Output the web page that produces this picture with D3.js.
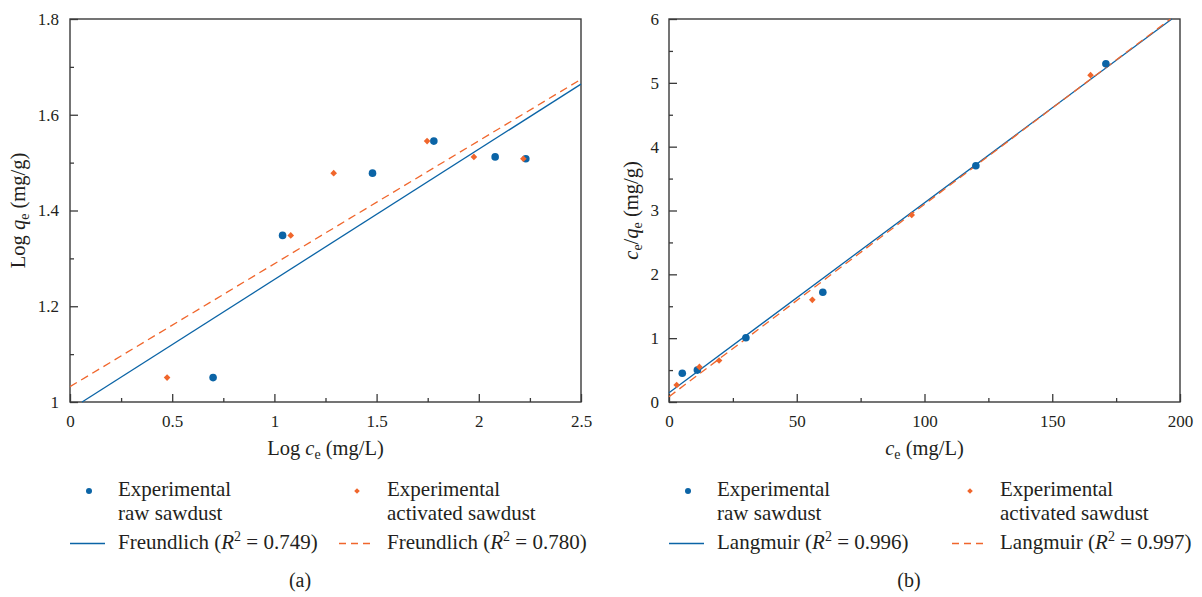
<!DOCTYPE html>
<html>
<head>
<meta charset="utf-8">
<script src="https://cdn.jsdelivr.net/npm/d3@7"></script>
<style>
  body { margin: 0; background: #fff; }
</style>
</head>
<body>
<svg width="1202" height="597"></svg>
<script>
// panel (a) - Freundlich, log values
const rawLogCe = [0.70, 1.04, 1.48, 1.78, 2.08, 2.23];
const rawLogQe = [1.051, 1.348, 1.478, 1.545, 1.512, 1.508];
const actLogCe = [0.475, 1.08, 1.29, 1.747, 1.976, 2.218];
const actLogQe = [1.051, 1.348, 1.478, 1.545, 1.512, 1.508];
const freundRawX = [0.059, 2.5], freundRawY = [1, 1.664];
const freundActX = [0, 2.5], freundActY = [1.032, 1.674];
const ticksAx = [0, 0.5, 1, 1.5, 2, 2.5];
const ticksAy = [1, 1.2, 1.4, 1.6, 1.8];

// panel (b) - Langmuir
const rawCe = [5.2, 11.1, 30.1, 60.2, 120.1, 171];
const rawCeQe = [0.45, 0.50, 1.007, 1.72, 3.70, 5.30];
const actCe = [3.0, 11.9, 19.6, 56.1, 95, 165];
const actCeQe = [0.266, 0.55, 0.65, 1.60, 2.93, 5.12];
const langRawX = [0, 196.8], langRawY = [0.146, 6];
const langActX = [0, 196.3], langActY = [0.083, 6];
const ticksBx = [0, 50, 100, 150, 200];
const ticksBy = [0, 1, 2, 3, 4, 5, 6];

const blue = '#0b64a6';
const orange = '#f0662c';
const frameCol = '#3a3a3a';
const ink = '#231f20';
const serif = 'Liberation Serif, Times New Roman, DejaVu Serif, serif';

const svg = d3.select('svg').attr('font-family', serif);
const diamond = d3.symbolDiamond2 || d3.symbolDiamond;

const drawPanel = (p) => {
    const g = svg.append('g');
    const x = d3.scaleLinear().domain(p.xDom).range([p.left, p.left + 511]);
    const y = d3.scaleLinear().domain(p.yDom).range([402, 19]);

    // minor ticks
    g.append('g').attr('transform', 'translate(0,402)')
        .call(d3.axisBottom(x).tickValues(p.xMinor).tickSize(-4).tickFormat(''))
        .call(a => a.select('.domain').remove());
    g.append('g').attr('transform', `translate(${p.left},0)`)
        .call(d3.axisLeft(y).tickValues(p.yMinor).tickSize(-4).tickFormat(''))
        .call(a => a.select('.domain').remove());

    const xa = g.append('g').attr('transform', 'translate(0,402)')
        .call(d3.axisBottom(x).tickValues(p.xTicks).tickSize(-8).tickPadding(13).tickFormat(d3.format('')));
    const ya = g.append('g').attr('transform', `translate(${p.left},0)`)
        .call(d3.axisLeft(y).tickValues(p.yTicks).tickSize(-8).tickPadding(p.yPad).tickFormat(d3.format('')));
    [xa, ya].forEach(a => {
        a.attr('font-family', serif).attr('font-size', 17);
        a.select('.domain').remove();
        a.selectAll('text').attr('fill', ink);
    });
    g.selectAll('.tick line').attr('stroke', frameCol).attr('stroke-width', 1.3);

    g.append('rect')
        .attr('x', p.left).attr('y', 19)
        .attr('width', 511).attr('height', 383)
        .attr('fill', 'none').attr('stroke', frameCol).attr('stroke-width', 1.4);

    const line = d3.line().x(d => x(d[0])).y(d => y(d[1]));
    g.append('path').datum(p.fitRawX.map((v, i) => [v, p.fitRawY[i]]))
        .attr('d', line).attr('fill', 'none').attr('stroke', blue).attr('stroke-width', 1.3);
    g.append('path').datum(p.fitActX.map((v, i) => [v, p.fitActY[i]]))
        .attr('d', line).attr('fill', 'none').attr('stroke', orange).attr('stroke-width', 1.3)
        .attr('stroke-dasharray', '8,5');

    g.selectAll('.raw').data(p.rawX).enter().append('circle')
        .attr('cx', d => x(d)).attr('cy', (d, i) => y(p.rawY[i]))
        .attr('r', 3.8).attr('fill', blue);
    g.selectAll('.act').data(p.actX).enter().append('path')
        .attr('d', d3.symbol().type(diamond).size(28))
        .attr('transform', (d, i) => `translate(${x(d)},${y(p.actY[i])})`)
        .attr('fill', orange);

    // x title
    const xt = g.append('text').attr('x', p.left + 255.5).attr('y', 455)
        .attr('text-anchor', 'middle').attr('font-size', 20.5).attr('fill', ink);
    if (p.xLog) xt.append('tspan').text('Log ');
    xt.append('tspan').attr('font-style', 'italic').text('c');
    xt.append('tspan').attr('font-size', 14).attr('dy', 4).text('e');
    xt.append('tspan').attr('dy', -4).text(' (mg/L)');

    // y title
    const yt = g.append('text')
        .attr('transform', `translate(${p.yTitleX},210.5) rotate(-90)`)
        .attr('text-anchor', 'middle').attr('font-size', 20.5).attr('fill', ink);
    if (p.xLog) {
        yt.append('tspan').text('Log ');
        yt.append('tspan').attr('font-style', 'italic').text('q');
        yt.append('tspan').attr('font-size', 14).attr('dy', 4).text('e');
        yt.append('tspan').attr('dy', -4).text(' (mg/g)');
    } else {
        yt.append('tspan').attr('font-style', 'italic').text('c');
        yt.append('tspan').attr('font-size', 14).attr('dy', 4).text('e');
        yt.append('tspan').attr('dy', -4).text('/');
        yt.append('tspan').attr('font-style', 'italic').text('q');
        yt.append('tspan').attr('font-size', 14).attr('dy', 4).text('e');
        yt.append('tspan').attr('dy', -4).text(' (mg/g)');
    }

    // legend
    const lg = g.append('g').attr('fill', ink);
    const c1 = p.legX, c2 = p.legX2;
    lg.append('circle').attr('cx', c1 + 19).attr('cy', 491).attr('r', 3).attr('fill', blue);
    lg.append('path').attr('d', d3.symbol().type(diamond).size(20))
        .attr('transform', `translate(${c2 + 18},491)`).attr('fill', orange);
    const addText = (tx, ty, s) => lg.append('text').attr('x', tx).attr('y', ty)
        .attr('font-size', 21).text(s);
    addText(c1 + 48, 496, 'Experimental');
    addText(c1 + 48, 520, 'raw sawdust');
    addText(c2 + 48, 496, 'Experimental');
    addText(c2 + 48, 520, 'activated sawdust');
    lg.append('line').attr('x1', c1).attr('x2', c1 + 35).attr('y1', 543.5).attr('y2', 543.5)
        .attr('stroke', blue).attr('stroke-width', 1.3);
    lg.append('line').attr('x1', c2).attr('x2', c2 + 35).attr('y1', 543.5).attr('y2', 543.5)
        .attr('stroke', orange).attr('stroke-width', 1.3).attr('stroke-dasharray', '7,5');
    const fitText = (tx, r2) => {
        const t = lg.append('text').attr('x', tx).attr('y', 549).attr('font-size', 21);
        t.append('tspan').text(p.fitName + ' (');
        t.append('tspan').attr('font-style', 'italic').text('R');
        t.append('tspan').attr('font-size', 14).attr('dy', -8).text('2');
        t.append('tspan').attr('dy', 8).text(' = ' + r2 + ')');
    };
    fitText(c1 + 48, p.r2[0]);
    fitText(c2 + 48, p.r2[1]);

    g.append('text').attr('x', p.capX).attr('y', 587).attr('text-anchor', 'middle')
        .attr('font-size', 20).attr('fill', ink).text(p.cap);
};

drawPanel({
    left: 70, xDom: [0, 2.5], yDom: [1, 1.8],
    xTicks: ticksAx, yTicks: ticksAy,
    xMinor: [0.25, 0.75, 1.25, 1.75, 2.25], yMinor: [1.1, 1.3, 1.5, 1.7],
    yPad: 11, xLog: true, yTitleX: 25,
    rawX: rawLogCe, rawY: rawLogQe, actX: actLogCe, actY: actLogQe,
    fitRawX: freundRawX, fitRawY: freundRawY, fitActX: freundActX, fitActY: freundActY,
    legX: 70, legX2: 339, fitName: 'Freundlich', r2: ['0.749', '0.780'],
    capX: 300, cap: '(a)'
});

drawPanel({
    left: 669, xDom: [0, 200], yDom: [0, 6],
    xTicks: ticksBx, yTicks: ticksBy,
    xMinor: [25, 75, 125, 175], yMinor: [0.5, 1.5, 2.5, 3.5, 4.5, 5.5],
    yPad: 10, xLog: false, yTitleX: 638,
    rawX: rawCe, rawY: rawCeQe, actX: actCe, actY: actCeQe,
    fitRawX: langRawX, fitRawY: langRawY, fitActX: langActX, fitActY: langActY,
    legX: 669, legX2: 952, fitName: 'Langmuir', r2: ['0.996', '0.997'],
    capX: 909, cap: '(b)'
});
</script>
</body>
</html>
